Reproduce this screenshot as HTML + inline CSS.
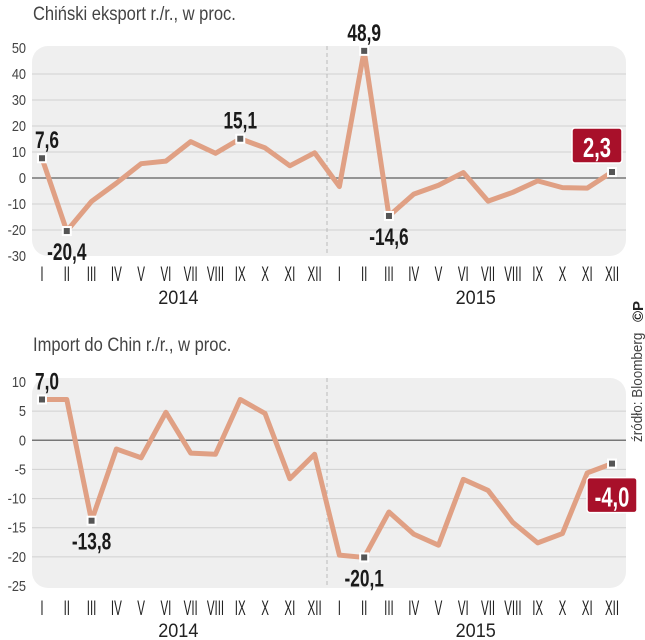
<!DOCTYPE html>
<html><head><meta charset="utf-8"><style>
html,body{margin:0;padding:0;background:#fff;}
svg{display:block;font-family:"Liberation Sans",sans-serif;}
.ttl{font-size:19px;fill:#444;}
.yl{font-size:15px;fill:#444;}
.ml{font-size:21px;fill:#222;}
.yr{font-size:19px;fill:#222;}
.vl{font-size:24px;font-weight:bold;fill:#1a1a1a;}
.bx{font-size:28px;font-weight:bold;fill:#fff;}
</style></head><body>
<svg id="c" width="645" height="640" viewBox="0 0 645 640">
<text transform="translate(33,20) scale(0.87,1)" class="ttl">Chiński eksport r./r., w  proc.</text>
<text transform="translate(33,351) scale(0.87,1)" class="ttl">Import do Chin r./r., w  proc.</text>
<text transform="translate(642,442) rotate(-90) scale(0.9,1)" style="font-size:15px;fill:#444">źródło: Bloomberg</text>
<text transform="translate(643,322) rotate(-90)" style="font-size:15px;font-weight:bold;fill:#222">©P</text>
</svg>
<script>
const months=['I','II','III','IV','V','VI','VII','VIII','IX','X','XI','XII'];
const years=['2014','2015'];
const exportValues=[7.6,-20.4,-9.0,-2.0,5.5,6.5,14.0,9.5,15.1,11.6,4.7,9.7,-3.3,48.9,-14.6,-6.2,-2.8,2.1,-8.9,-5.5,-1.1,-3.7,-3.9,2.3];
const importValues=[7.0,7.0,-13.8,-1.5,-3.0,4.8,-2.2,-2.4,7.0,4.6,-6.6,-2.4,-19.7,-20.1,-12.3,-16.1,-18.0,-6.7,-8.6,-14.1,-17.6,-16.0,-5.6,-4.0];
const exportTicks=[50,40,30,20,10,0,-10,-20,-30];
const importTicks=[10,5,0,-5,-10,-15,-20,-25];
const exportLabels=[[0,'7,6','above'],[1,'-20,4','below'],[8,'15,1','above'],[13,'48,9','above'],[14,'-14,6','below']];
const importLabels=[[0,'7,0','above'],[2,'-13,8','below'],[13,'-20,1','below']];
const NS='http://www.w3.org/2000/svg';
const svg=document.getElementById('c');
function mk(t,a,p){const e=document.createElementNS(NS,t);for(const k in a)e.setAttribute(k,a[k]);(p||svg).appendChild(e);return e;}
const xs=i=>42+i*(612-42)/23;
function chart(cfg){
  const g=mk('g',{});
  
  
  const ys=v=>cfg.y0+(v-cfg.v0)*(cfg.y1-cfg.y0)/(cfg.v1-cfg.v0);
  const bg=mk('rect',{x:32,y:cfg.bgTop,width:594,height:cfg.bgBot-cfg.bgTop,rx:16,fill:'#efefef'},g);
  
  
  cfg.ticks.forEach(t=>{
    const y=ys(t);
    if(t!==cfg.ticks[0]&&t!==cfg.ticks[cfg.ticks.length-1]){
      const l=mk('line',{x1:32,x2:626,y1:y,y2:y,stroke:t===0?'#777':'#d0d0d0','stroke-width':t===0?1.5:1},g);
      
      
    }
    const tx=mk('text',{transform:'translate(26,'+(y+5)+') scale(0.85,1)','text-anchor':'end',class:'yl'},g);
    tx.textContent=t;
    
    
  });
  const sep=mk('line',{x1:(xs(11)+xs(12))/2,x2:(xs(11)+xs(12))/2,y1:cfg.bgTop,y2:cfg.bgBot,stroke:'#bbb','stroke-dasharray':'4,3'},g);
  
  
  for(let i=0;i<24;i++){
    const t=mk('text',{transform:'translate('+xs(i)+','+cfg.mY+') scale(0.55,1)','text-anchor':'middle',class:'ml'},g);
    t.textContent=months[i%12];
    
    
  }
  years.forEach((yr,k)=>{
    const t=mk('text',{transform:'translate('+((xs(k*12)+xs(k*12+11))/2)+','+cfg.yrY+') scale(0.95,1)','text-anchor':'middle',class:'yr'},g);
    t.textContent=yr;
    
    
  });
  const pts=cfg.vals.map((v,i)=>xs(i)+','+ys(v)).join(' ');
  const pl=mk('polyline',{points:pts,fill:'none',stroke:'#e0a084','stroke-width':5,'stroke-linejoin':'round'},g);
  
  
  const mark=i=>{
    const m=mk('rect',{x:xs(i)-4,y:ys(cfg.vals[i])-4,width:8,height:8,fill:'#555',stroke:'#fff','stroke-width':2},g);
    
    
  };
  cfg.labels.forEach(([i,s,pos])=>{
    mark(i);
    const y=ys(cfg.vals[i]);
    const t=mk('text',{transform:'translate('+(xs(i)+(i===0?-7:0))+','+(pos==='above'?y-10:y+29)+') scale(0.72,1)','text-anchor':i===0?'start':'middle',class:'vl'},g);
    t.textContent=s;
    
    
  });
  const last=23;mark(last);
  const ly=ys(cfg.vals[last]);
  const by=cfg.boxBelow?ly+14:ly-44;
  const bx=cfg.boxBelow?587:572;
  const r=mk('rect',{x:bx,y:by,width:50,height:35,rx:3,fill:'#a8102a',stroke:'#fff','stroke-width':1.5},g);
  
  
  const bt=mk('text',{transform:'translate('+(bx+25)+','+(by+29)+') scale(0.72,1)','text-anchor':'middle',class:'bx'},g);
  bt.textContent=String(cfg.vals[last].toFixed(1)).replace('.',',');
  
  
}
chart({name:'export-chart',vals:exportValues,ticks:exportTicks,labels:exportLabels,v0:50,v1:-30,y0:48,y1:256,bgTop:46,bgBot:256,mY:281,yrY:304,boxBelow:false});
chart({name:'import-chart',vals:importValues,ticks:importTicks,labels:importLabels,v0:10,v1:-25,y0:382,y1:586,bgTop:378,bgBot:588,mY:615,yrY:637,boxBelow:true});
</script>
</body></html>
